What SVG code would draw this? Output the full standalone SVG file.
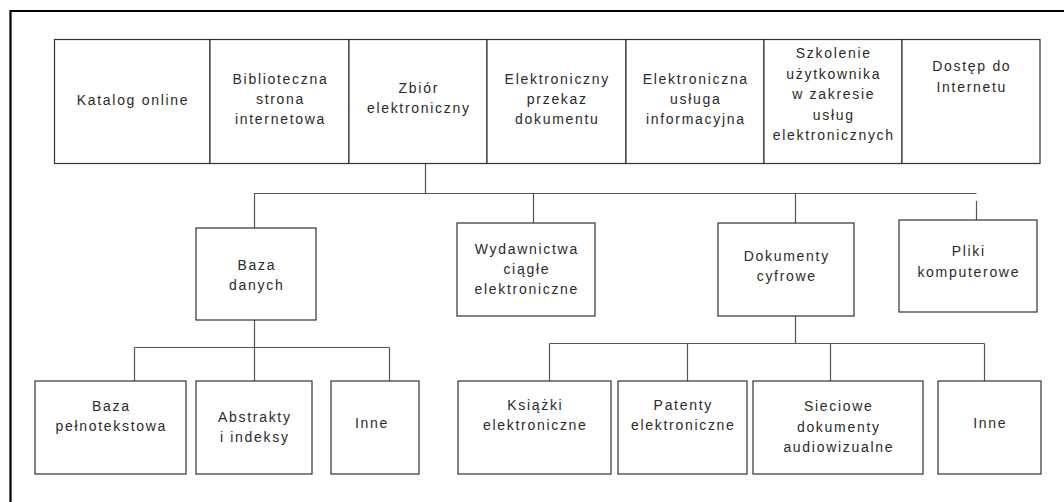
<svg xmlns="http://www.w3.org/2000/svg" width="1064" height="502" viewBox="0 0 1064 502">
<style>
.box{fill:#fff;stroke:#333;stroke-width:1.2}
.t{font-family:"Liberation Sans",Arial,sans-serif;font-size:14px;fill:#2a2a2a;text-anchor:middle;letter-spacing:1.7px}
.c{fill:none;stroke:#555;stroke-width:1.2}
</style>
<rect width="1064" height="502" fill="#fff"/>
<path d="M10.5 502 V11 H1064" fill="none" stroke="#000" stroke-width="2.2"/>
<g id="connectors">
<path class="c" d="M425.5 163 V193.5 M254 193.5 H976.5 M254.5 193.5 V228 M533.5 193.5 V223 M795.5 193.5 V223 M976.5 201 V220"/>
<path class="c" d="M254.5 320 V381 M134.5 347.5 H389.5 M134.5 347.5 V381 M389.5 347.5 V381"/>
<path class="c" d="M795.5 316 V343.5 M549.5 343.5 H984.5 M549.5 343.5 V381 M687.5 343.5 V381 M830.5 343.5 V381 M984.5 343.5 V381"/>
</g>
<g id="katalog"><rect class="box" x="54.5" y="39.5" width="155.5" height="124"/><text class="t" x="133" y="104.5">Katalog online</text></g>
<g id="biblioteczna"><rect class="box" x="210" y="39.5" width="139" height="124"/><text class="t" x="280.5"><tspan x="280.5" y="84">Biblioteczna</tspan><tspan x="280.5" y="104">strona</tspan><tspan x="280.5" y="124">internetowa</tspan></text></g>
<g id="zbior"><rect class="box" x="349" y="39.5" width="138" height="124"/><text class="t"><tspan x="418.8" y="93">Zbiór</tspan><tspan x="418.8" y="113">elektroniczny</tspan></text></g>
<g id="przekaz"><rect class="box" x="487" y="39.5" width="139" height="124"/><text class="t"><tspan x="557.3" y="84">Elektroniczny</tspan><tspan x="557.3" y="104">przekaz</tspan><tspan x="557.3" y="124">dokumentu</tspan></text></g>
<g id="usluga"><rect class="box" x="626" y="39.5" width="138" height="124"/><text class="t"><tspan x="695.8" y="84">Elektroniczna</tspan><tspan x="695.8" y="104">usługa</tspan><tspan x="695.8" y="124">informacyjna</tspan></text></g>
<g id="szkolenie"><rect class="box" x="764" y="39.5" width="138" height="124"/><text class="t"><tspan x="833.8" y="58">Szkolenie</tspan><tspan x="833.8" y="78.5">użytkownika</tspan><tspan x="833.8" y="99">w zakresie</tspan><tspan x="833.8" y="119.5">usług</tspan><tspan x="833.8" y="140">elektronicznych</tspan></text></g>
<g id="dostep"><rect class="box" x="902" y="39.5" width="138" height="124"/><text class="t"><tspan x="971.8" y="71">Dostęp do</tspan><tspan x="971.8" y="92">Internetu</tspan></text></g>
<g id="baza-danych"><rect class="box" x="196" y="228" width="120" height="92"/><text class="t"><tspan x="256.8" y="269.5">Baza</tspan><tspan x="256.8" y="289.5">danych</tspan></text></g>
<g id="wydawnictwa"><rect class="box" x="457" y="223" width="138" height="93"/><text class="t"><tspan x="526.8" y="254">Wydawnictwa</tspan><tspan x="526.8" y="274">ciągłe</tspan><tspan x="526.8" y="294">elektroniczne</tspan></text></g>
<g id="dokumenty-cyfrowe"><rect class="box" x="718" y="223" width="136" height="93"/><text class="t"><tspan x="786.8" y="261">Dokumenty</tspan><tspan x="786.8" y="281">cyfrowe</tspan></text></g>
<g id="pliki"><rect class="box" x="899" y="220" width="138" height="92"/><text class="t"><tspan x="968.8" y="256">Pliki</tspan><tspan x="968.8" y="276.5">komputerowe</tspan></text></g>
<g id="baza-pelnotekstowa"><rect class="box" x="35" y="381" width="151" height="93"/><text class="t"><tspan x="111.3" y="411">Baza</tspan><tspan x="111.3" y="431">pełnotekstowa</tspan></text></g>
<g id="abstrakty"><rect class="box" x="196" y="381" width="116" height="93"/><text class="t"><tspan x="254.8" y="422">Abstrakty</tspan><tspan x="254.8" y="442">i indeksy</tspan></text></g>
<g id="inne-1"><rect class="box" x="331" y="381" width="88" height="93"/><text class="t" x="372" y="428">Inne</text></g>
<g id="ksiazki"><rect class="box" x="458" y="381" width="153" height="93"/><text class="t"><tspan x="535.3" y="410">Książki</tspan><tspan x="535.3" y="430">elektroniczne</tspan></text></g>
<g id="patenty"><rect class="box" x="618" y="381" width="129" height="93"/><text class="t"><tspan x="683.3" y="410">Patenty</tspan><tspan x="683.3" y="430">elektroniczne</tspan></text></g>
<g id="sieciowe"><rect class="box" x="753" y="381" width="170" height="93"/><text class="t"><tspan x="838.8" y="411">Sieciowe</tspan><tspan x="838.8" y="431.5">dokumenty</tspan><tspan x="838.8" y="452">audiowizualne</tspan></text></g>
<g id="inne-2"><rect class="box" x="938" y="381" width="103" height="93"/><text class="t" x="990.3" y="428">Inne</text></g>
</svg>
